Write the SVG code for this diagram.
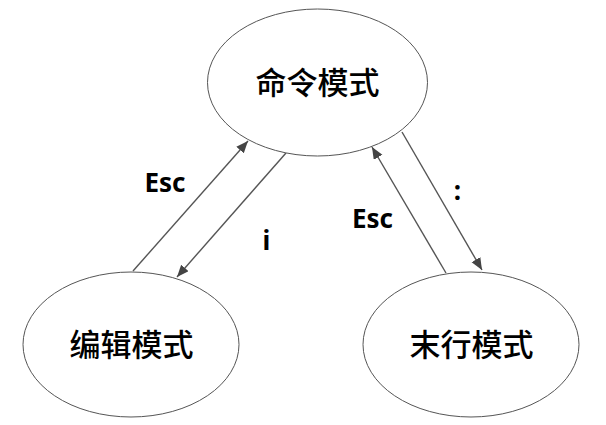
<svg xmlns="http://www.w3.org/2000/svg" width="606" height="425" viewBox="0 0 606 425">
<style>
.node ellipse{fill:#fff;stroke:#555;stroke-width:1}
.node text{font-family:"Noto Sans CJK SC","Noto Sans",sans-serif;font-size:31px;font-weight:500;fill:#000;text-anchor:middle;dominant-baseline:central}
.conn line{stroke:#555;stroke-width:1.4;marker-end:url(#arr)}
.lbl{font-family:"Noto Sans","Noto Sans CJK SC",sans-serif;font-size:26px;font-weight:bold;fill:#000;text-anchor:middle}
</style>
<defs>
<marker id="arr" markerUnits="userSpaceOnUse" markerWidth="13" markerHeight="11" refX="12" refY="5" orient="auto">
<path d="M0,0 L12,5 L0,10 z" fill="#444"/>
</marker>
</defs>
<rect width="606" height="425" fill="#fff"/>
<g id="node-command" class="node">
<ellipse cx="317.5" cy="82.5" rx="110" ry="73.5"/>
<text x="317.5" y="80">命令模式</text>
</g>
<g id="node-edit" class="node">
<ellipse cx="131" cy="344.5" rx="108" ry="72.5"/>
<text x="131.5" y="342.5">编辑模式</text>
</g>
<g id="node-lastline" class="node">
<ellipse cx="471" cy="344.5" rx="108" ry="72.5"/>
<text x="471.5" y="342.5">末行模式</text>
</g>
<g id="connectors" class="conn">
<line x1="133" y1="271" x2="248" y2="141"/>
<line x1="286" y1="153" x2="177" y2="277"/>
<line x1="446" y1="273" x2="372" y2="147"/>
<line x1="402" y1="132" x2="482" y2="270"/>
</g>
<g id="labels">
<text class="lbl" x="165" y="192">Esc</text>
<text class="lbl" x="266.5" y="250">i</text>
<text class="lbl" x="372.5" y="228">Esc</text>
<text class="lbl" x="457.5" y="200">:</text>
</g>
</svg>
